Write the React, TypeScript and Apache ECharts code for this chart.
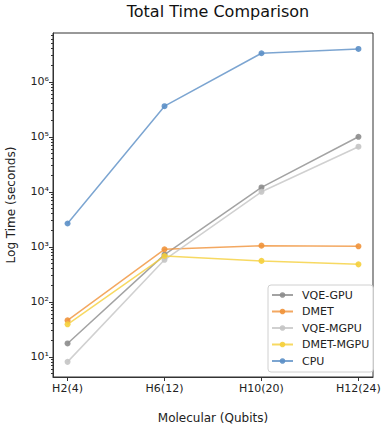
import React, { useEffect, useRef } from "react";
import * as echarts from "echarts";

const categories = ["H2(4)", "H6(12)", "H10(20)", "H12(24)"];
const seriesNames = ["VQE-GPU", "DMET", "VQE-MGPU", "DMET-MGPU", "CPU"];
const vqeGpu = [17.5, 720, 12000, 100000];
const dmet = [46, 900, 1050, 1020];
const vqeMgpu = [8.1, 580, 10000, 66000];
const dmetMgpu = [39, 680, 555, 480];
const cpu = [2650, 360000, 3300000, 3950000];
const seriesColors = ["#8c8c8c", "#f0923a", "#c4c4c4", "#f5cf3b", "#5b8fc6"];
const majorTicks = [10, 100, 1000, 10000, 100000, 1000000];

const sup: Record<string, string> = { "0": "⁰", "1": "¹", "2": "²", "3": "³", "4": "⁴", "5": "⁵", "6": "⁶", "7": "⁷", "8": "⁸", "9": "⁹", "-": "⁻" };

export default function App() {
  const ref = useRef<HTMLDivElement>(null);
  useEffect(() => {
    const chart = echarts.init(ref.current!, null, { renderer: "svg" });
    const yMin = 4.3;
    const yMax = 7.7e6;
    const minorTicks: number[] = [];
    for (let e = 0; e <= 6; e++) {
      for (let k = 2; k <= 9; k++) {
        const v = k * Math.pow(10, e);
        if (v > yMin && v < yMax) minorTicks.push(v);
      }
    }
    const allData = [vqeGpu, dmet, vqeMgpu, dmetMgpu, cpu];
    const font = "DejaVu Sans";
    chart.setOption({
      animation: false,
      backgroundColor: "#ffffff",
      title: {
        text: "Total Time Comparison",
        left: 213,
        textAlign: "center",
        top: -2,
        textStyle: { fontFamily: font, fontSize: 16, fontWeight: "normal", color: "#111" },
      },
      grid: {
        left: 53, right: 12, top: 33, bottom: 47,
        outerBoundsMode: "none",
        containLabel: false,
        show: true, borderColor: "#333", borderWidth: 1, backgroundColor: "transparent",
      },
      legend: {
        orient: "vertical",
        left: 268,
        top: 285,
        data: seriesNames,
        itemWidth: 21,
        itemHeight: 7,
        itemGap: 2.5,
        padding: [3, 4, 4, 3],
        borderColor: "#d0d0d0",
        borderWidth: 1,
        borderRadius: 3,
        backgroundColor: "rgba(255,255,255,0.85)",
        textStyle: { fontFamily: font, fontSize: 11, color: "#222", lineHeight: 14, padding: [0, 0, 0, 4] },
      },
      xAxis: {
        type: "value",
        min: -0.15,
        max: 3.15,
        name: "Molecular (Qubits)",
        nameLocation: "middle",
        nameGap: 35,
        nameTextStyle: { fontFamily: font, fontSize: 12, color: "#222" },
        axisLine: { show: true, onZero: false, lineStyle: { color: "#333", width: 1 } },
        axisTick: { show: true, length: 4, customValues: [0, 1, 2, 3], lineStyle: { color: "#333" } },
        axisLabel: {
          customValues: [0, 1, 2, 3],
          formatter: (v: number) => categories[Math.round(v)] ?? "",
          fontFamily: font,
          fontSize: 11,
          color: "#222",
          margin: 6,
        },
        splitLine: { show: false },
      },
      yAxis: [
        {
          type: "log",
          logBase: 10,
          min: yMin,
          max: yMax,
          position: "left",
          name: "Log Time (seconds)",
          nameLocation: "middle",
          nameGap: 36,
          nameTextStyle: { fontFamily: font, fontSize: 12, color: "#222" },
          axisLine: { show: true, onZero: false, lineStyle: { color: "#333", width: 1 } },
          axisTick: { show: true, length: 4, customValues: majorTicks, lineStyle: { color: "#333" } },
          axisLabel: {
            customValues: majorTicks,
            formatter: (v: number) => {
              const e = String(Math.round(Math.log10(v)));
              return "10" + e.split("").map((c) => sup[c] ?? c).join("");
            },
            fontFamily: font,
            fontSize: 11,
            color: "#222",
            margin: 4,
          },
          splitLine: { show: false },
        },
        {
          type: "log",
          logBase: 10,
          min: yMin,
          max: yMax,
          position: "left",
          offset: 0,
          axisLine: { show: false, onZero: false },
          axisTick: { show: true, length: 2, customValues: minorTicks, lineStyle: { color: "#333" } },
          axisLabel: { show: false },
          splitLine: { show: false },
        },
      ],
      series: seriesNames.map((name, i) => ({
        name,
        type: "line",
        yAxisIndex: 0,
        data: allData[i].map((v, j) => [j, v]),
        symbol: "circle",
        symbolSize: 6,
        color: seriesColors[i],
        lineStyle: { width: 1.5, color: seriesColors[i], opacity: 0.8 },
        itemStyle: { color: seriesColors[i], opacity: 0.9 },
        emphasis: { disabled: true },
      })),
    });
    return () => chart.dispose();
  }, []);
  return <div ref={ref} style={{ position: "absolute", left: 0, top: 0, width: 385, height: 424 }} />;
}
